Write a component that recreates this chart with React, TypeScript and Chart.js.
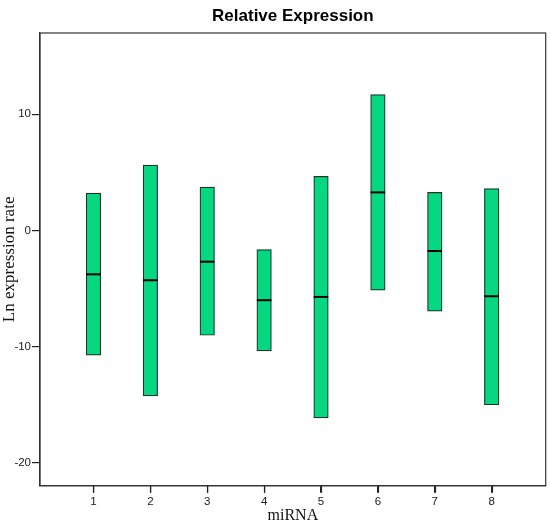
import React, { useEffect, useRef } from "react";
import { Chart, registerables } from "chart.js";

Chart.register(...registerables);

const categories = [1, 2, 3, 4, 5, 6, 7, 8];
const lows = [-10.76, -14.26, -9.04, -10.38, -16.15, -5.16, -6.97, -15.03];
const highs = [3.21, 5.62, 3.73, -1.66, 4.65, 11.69, 3.27, 3.59];
const medians = [-3.79, -4.3, -2.7, -6.02, -5.74, 3.27, -1.78, -5.68];
const yTicks = [-20, -10, 0, 10];

const medianPlugin = {
  id: "medianLines",
  afterDatasetsDraw(chart: any) {
    const meta = chart.getDatasetMeta(0);
    const yScale = chart.scales.y;
    const ctx = chart.ctx;
    ctx.save();
    ctx.strokeStyle = "#000";
    ctx.lineWidth = 2;
    meta.data.forEach((bar: any, i: number) => {
      const y = yScale.getPixelForValue(medians[i]);
      ctx.beginPath();
      ctx.moveTo(bar.x - bar.width / 2, y);
      ctx.lineTo(bar.x + bar.width / 2, y);
      ctx.stroke();
    });
    ctx.restore();
  },
};

const framePlugin = {
  id: "frame",
  afterDraw(chart: any) {
    const { left, top, right, bottom } = chart.chartArea;
    const ctx = chart.ctx;
    const xScale = chart.scales.x;
    ctx.save();
    ctx.strokeStyle = "#333";
    ctx.lineWidth = 1.2;
    ctx.strokeRect(left, top, right - left, bottom - top);
    ctx.strokeStyle = "#222";
    categories.forEach((c) => {
      const x = Math.round(xScale.getPixelForValue(c)) + 0.5;
      ctx.beginPath();
      ctx.moveTo(x, bottom);
      ctx.lineTo(x, bottom + 7);
      ctx.stroke();
    });
    ctx.restore();
  },
};

export default function App() {
  const ref = useRef<HTMLCanvasElement>(null);
  useEffect(() => {
    if (!ref.current) return;
    const chart = new Chart(ref.current, {
      type: "bar",
      data: {
        datasets: [
          {
            data: categories.map((c, i) => ({ x: c, y: [lows[i], highs[i]] })) as any,
            backgroundColor: "#05d880",
            borderColor: "#1d3328",
            borderWidth: 1.2,
            borderSkipped: false,
            barThickness: 14.5,
          },
        ],
      },
      options: {
        responsive: false,
        animation: false,
        layout: { padding: { right: 4.3, left: 0, top: 0, bottom: 0 } },
        plugins: {
          legend: { display: false },
          tooltip: { enabled: false },
          title: {
            display: true,
            fullSize: false,
            text: "Relative Expression",
            color: "#000",
            font: { family: "Liberation Sans", size: 17, weight: "bold" },
            padding: { top: 6.5, bottom: 6.1 },
          },
        },
        scales: {
          x: {
            type: "linear",
            offset: false,
            min: 0.06,
            max: 8.95,
            afterBuildTicks: (s: any) => {
              s.ticks = categories.map((v) => ({ value: v }));
            },
            afterFit: (s: any) => {
              s.height = 39.3;
            },
            grid: { display: true, offset: false, drawOnChartArea: false, drawTicks: true, tickLength: 7, color: "#222", lineWidth: 1.2 },
            border: { display: true, color: "#333", width: 1.2 },
            ticks: {
              color: "#222",
              font: { family: "Liberation Sans", size: 11.5 },
              padding: 2,
              maxRotation: 0,
            },
            title: {
              display: true,
              text: "miRNA",
              color: "#111",
              font: { family: "Liberation Serif", size: 16 },
              padding: { top: 0, bottom: 0 },
            },
          },
          y: {
            type: "linear",
            min: -22,
            max: 17,
            afterBuildTicks: (s: any) => {
              s.ticks = yTicks.map((v) => ({ value: v }));
            },
            afterFit: (s: any) => {
              s.width = 40;
            },
            grid: { display: true, drawOnChartArea: false, drawTicks: true, tickLength: 8, color: "#222", lineWidth: 1.2 },
            border: { display: true, color: "#333", width: 1.2 },
            ticks: {
              color: "#222",
              font: { family: "Liberation Sans", size: 11.5 },
              padding: 1,
            },
            title: {
              display: true,
              text: "Ln expression rate",
              color: "#111",
              font: { family: "Liberation Serif", size: 17 },
              padding: { top: -1, bottom: 0 },
            },
          },
        },
      } as any,
      plugins: [medianPlugin, framePlugin],
    });
    return () => chart.destroy();
  }, []);
  return (
    <div style={{ position: "fixed", left: 0, top: 0, width: 550, height: 525, background: "#fff" }}>
      <canvas ref={ref} width={550} height={525} style={{ width: 550, height: 525 }} />
    </div>
  );
}
